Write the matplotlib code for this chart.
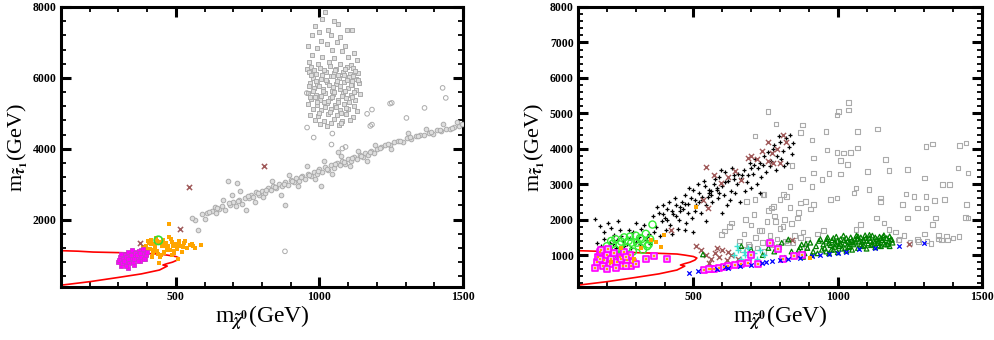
import numpy as np
import matplotlib.pyplot as plt
from matplotlib.ticker import MultipleLocator

# ---------------- data ----------------
# red exclusion contour, same in both panels
red_x = [100, 160, 212, 300, 380, 443, 470, 500, 512, 505, 488, 470, 455, 470, 443, 380, 300, 200, 105]
red_y = [1125, 1110, 1086, 1070, 1050, 1030, 1000, 960, 917, 860, 800, 760, 720, 690, 579, 470, 370, 250, 156]

# left panel
L_block_x = [1020, 1010, 1050, 1065, 985, 1000, 1030, 1095, 1115, 975, 1040, 1070, 1005, 1025, 1060,
             1090, 960, 990, 1045, 1080, 1120, 975, 1010, 1050, 1100, 1130, 965, 995, 1035, 1070, 1110,
             955, 972, 1003, 1038, 1058, 1097, 1118, 962, 988, 1022, 1052, 1083, 1108, 1133, 978, 1007,
             1042, 1067, 1102, 1127, 966, 993, 1027, 1057, 1087, 1113, 1138, 982, 1012, 1047, 1072, 1098,
             1128, 961, 989, 1018, 1049, 1081, 1109, 1141, 971, 1002, 1036, 1064, 1093, 1124, 959, 992,
             1026, 1054, 1086, 1119, 976, 1006, 1041, 1071, 1101, 1131, 967, 996, 1031, 1061, 1091, 1116,
             986, 1016, 1051, 1079, 1106, 1001, 1039, 1068, 1028, 1075, 984, 1044, 1112, 1063, 1015,
             980, 1015, 1055, 1090, 1125, 970, 1008, 1046, 1085, 1118, 988, 1024, 1062, 1096, 1135, 963,
             1000, 1035, 1073, 1110, 977, 1013, 1052, 1088, 1122, 968, 1005, 1043, 1078, 1115, 990, 1030,
             1066, 1102, 1020, 1058, 1094, 997, 1037, 1076]
L_block_y = [7850, 7650, 7600, 7520, 7450, 7300, 7350, 7350, 7340, 7200, 7200, 7150, 7050, 6950, 7000,
             6900, 6900, 6850, 6800, 6750, 6700, 6650, 6600, 6550, 6600, 6500, 6450, 6400, 6450, 6400, 6350,
             6250, 6310, 6270, 6330, 6240, 6300, 6280, 6160, 6120, 6180, 6140, 6170, 6110, 6150, 6010, 5980,
             6040, 5990, 6020, 5960, 5860, 5830, 5880, 5840, 5870, 5810, 5850, 5710, 5680, 5730, 5690, 5720,
             5670, 5560, 5530, 5580, 5540, 5570, 5510, 5550, 5410, 5380, 5430, 5390, 5420, 5370, 5260, 5230,
             5280, 5240, 5270, 5210, 5110, 5080, 5130, 5090, 5120, 5060, 4960, 4930, 4980, 4940, 4970, 4910,
             4810, 4780, 4830, 4790, 4820, 4700, 4720, 4680, 4650, 4740, 5470, 5640, 5920, 6070, 5330,
             6220, 6230, 6210, 6240, 6200, 6070, 6090, 6060, 6080, 6050, 5920, 5940, 5910, 5950, 5930, 5780,
             5770, 5790, 5760, 5800, 5620, 5640, 5610, 5630, 5600, 5470, 5490, 5460, 5480, 5450, 5320, 5340,
             5310, 5330, 5170, 5190, 5160, 5020, 5040, 5010]
L_out_x = [956, 980, 1045, 1042, 1177, 1246, 1166, 957, 1080, 1091, 1252, 1366, 1429, 1440, 1183, 1303, 1183, 880]
L_out_y = [5573, 4317, 4430, 4120, 4644, 5275, 4986, 4599, 4007, 4052, 5294, 5153, 5718, 5435, 5106, 4870, 4682, 1106]

L_band_x = [565, 555, 600, 577, 590, 610, 625, 640, 650, 660, 670, 680, 690, 700, 710, 714, 720, 730, 740,
            745, 754, 760, 770, 780, 790, 800, 810, 820, 830, 840, 850, 860, 870, 880, 890, 900, 910, 920,
            930, 940, 950, 960, 970, 980, 990, 1000, 1010, 1020, 1030, 1040, 1050, 1060, 1070, 1080, 1090,
            1100, 1110, 1120, 1130, 1140, 1150, 1160, 1170, 1180, 1190, 1200, 1215, 1230, 1245, 1260, 1275,
            1290, 1305, 1320, 1335, 1350, 1365, 1380, 1395, 1410, 1425, 1440, 1455, 1470, 1485, 1495,
            635, 665, 695, 725, 775, 805, 835, 865, 895, 925, 955, 985, 1015, 1045, 1075, 1105, 1135, 1165,
            1195, 1250, 1310, 1370, 1430, 1480, 880, 1005, 1065,
            615, 645, 685, 715, 750, 785, 815, 845, 875, 905, 935, 965, 995, 1025, 1055, 1085, 1115, 1145,
            1175, 1210, 1240, 1280, 1315, 1345, 1390, 1420, 1460]
L_band_y = [2000, 2060, 2030, 1718, 2150, 2180, 2250, 2200, 2300, 2380, 2280, 3082, 2420, 2500, 2380,
            3035, 2560, 2450, 2620, 2282, 2600, 2700, 2650, 2780, 2700, 2820, 2760, 2900, 2830, 2950, 2880,
            3000, 2940, 3050, 2980, 3120, 3060, 3180, 3100, 3230, 3150, 3300, 3240, 3350, 3280, 3420, 3350,
            3480, 3400, 3530, 3460, 3600, 3540, 3650, 3580, 3720, 3660, 3770, 3700, 3830, 3760, 3880, 3820,
            3940, 3870, 4000, 4050, 4120, 4100, 4180, 4230, 4200, 4300, 4280, 4350, 4400, 4380, 4450, 4430,
            4520, 4490, 4560, 4550, 4620, 4650, 4700,
            2350, 2550, 2700, 2800, 2500, 2650, 3100, 2700, 3250, 2950, 3500, 3150, 3650, 3300, 3800, 3500,
            3950, 3650, 4100, 4000, 4450, 4560, 4700, 4750, 2400, 2950, 3900,
            2230, 2330, 2470, 2520, 2660, 2740, 2850, 2920, 3010, 3090, 3190, 3270, 3380, 3440, 3560, 3620,
            3740, 3800, 3910, 4010, 4140, 4210, 4320, 4370, 4470, 4540, 4600]

L_orange_x = [477, 587, 567, 532, 443, 506, 390, 395, 400, 405, 410, 415, 420, 425, 430, 435, 440, 445, 450,
              455, 460, 465, 470, 475, 480, 485, 490, 495, 500, 505, 510, 515, 520, 398, 412, 428, 438, 452,
              468, 482, 496, 512, 525, 540, 555, 418, 433, 458, 473, 488, 503, 387, 402, 423, 447, 463, 492,
              530, 548, 380, 385, 560]
L_orange_y = [1875, 1283, 1207, 1404, 785, 889, 1100, 1250, 1000, 1350, 1180, 1420, 1050, 1300, 1480, 1120,
              1380, 960, 1250, 1440, 1080, 1330, 1200, 1500, 1150, 1380, 1250, 1050, 1320, 1180, 1400, 1250,
              1100, 1150, 1300, 1220, 1020, 1350, 1150, 1450, 1300, 1320, 1230, 1200, 1320, 950, 1400, 1050,
              1250, 1000, 1220, 1000, 1400, 1150, 1000, 1260, 1120, 1350, 1280, 950, 1220, 1250]

L_mag_x = [300, 305, 310, 315, 320, 325, 330, 335, 340, 345, 350, 355, 360, 365, 370, 375, 380, 385, 390,
           395, 302, 312, 322, 332, 342, 352, 362, 372, 382, 392, 308, 318, 328, 338, 348, 358, 368, 378,
           388, 398, 325, 345, 365, 385, 335, 355, 375]
L_mag_y = [800, 950, 700, 880, 1020, 760, 920, 650, 1050, 840, 980, 720, 1100, 900, 1010, 830, 1150, 960,
           1080, 1000, 870, 780, 1000, 1080, 930, 800, 880, 1120, 1040, 900, 1040, 840, 960, 780, 1150, 1050,
           820, 950, 880, 1100, 690, 1000, 990, 1180, 880, 900, 1060]

L_brown_x = [376, 514, 545, 808]
L_brown_y = [1341, 1736, 2913, 3506]
L_green_x = [439]
L_green_y = [1416]

# right panel
R_black_x = [160, 175, 190, 205, 215, 225, 240, 245, 165, 180, 200, 220, 235, 250, 170, 260, 255, 190, 230, 210,
             270, 280, 290, 300, 310, 320, 335, 345, 300, 275, 330, 350, 285, 315, 340,
             360, 370, 380, 390, 400, 410, 420, 430, 440, 450, 365, 385, 405, 425, 445, 455, 395, 435, 415, 375,
             460, 470, 480, 490, 500, 510, 520, 530, 540, 550, 465, 475, 495, 505, 525, 545, 485, 515, 535, 555,
             470, 500, 545,
             560, 570, 580, 590, 600, 610, 620, 630, 640, 650, 565, 585, 605, 625, 645, 575, 595, 615, 635, 655,
             660, 600,
             665, 675, 685, 695, 705, 715, 725, 735, 745, 680, 700, 720, 740, 690, 710, 730, 750,
             760, 770, 780, 790, 800, 810, 820, 830, 840, 765, 785, 805, 825, 845, 775, 795, 815, 835,
             395, 425, 455, 480, 505, 530, 555, 580, 610, 640, 670, 700, 730, 410, 440, 470, 520, 560, 590]
R_black_y = [2010, 1820, 1650, 1900, 1760, 1580, 1950, 1700, 1350, 1250, 1180, 1300, 1420, 1550, 1120, 1250,
             1400, 1450, 1200, 1350,
             1300, 1480, 1650, 1380, 1520, 1750, 1420, 1600, 1900, 1700, 1850, 1300, 1200, 1300, 1500,
             2100, 1800, 2200, 1950, 2050, 2300, 1850, 2150, 2400, 2000, 1650, 1550, 1700, 1600, 1750, 2250,
             2400, 2600, 2500, 2350,
             2500, 2700, 2200, 2600, 2850, 2400, 2750, 2550, 2950, 2650, 2300, 1900, 2050, 2250, 2200, 2400,
             2900, 3000, 3100, 2850, 1700, 1650, 1950,
             2700, 3000, 2850, 3200, 2950, 3350, 3100, 2800, 3250, 3000, 2500, 2600, 2700, 2550, 2750, 3150,
             3400, 2400, 3450, 3300, 2500, 2200,
             3150, 3400, 3050, 3600, 3300, 3700, 3450, 3200, 3800, 2800, 2900, 3000, 3550, 3250, 3550, 2750, 3350,
             3900, 3650, 4100, 3800, 4200, 3950, 4300, 4050, 3850, 3500, 3400, 3700, 3600, 4150, 4000, 4350,
             3500, 4400,
             2150, 2250, 2350, 2450, 2550, 2650, 2750, 2900, 3050, 3150, 3250, 3450, 3600, 2000, 2100, 2450,
             2500, 2800, 2750]

R_brown_x = [544, 573, 597, 643, 666, 690, 701, 736, 759, 811, 822, 771, 777, 533, 550, 422, 620, 720, 790,
             800, 760, 527, 545, 560, 575, 590, 600, 615, 630, 643, 555, 580, 620, 510, 1248, 841, 655]
R_brown_y = [3474, 3268, 3034, 3362, 3127, 3736, 3783, 3924, 4205, 4392, 4205, 3877, 3596, 2565, 2331, 1722,
             3200, 3700, 4000, 3600, 3650, 1150, 1000, 900, 1050, 950, 1150, 850, 1000, 760, 780, 1200, 1100,
             1250, 1300, 1440, 880]

R_gray_x = [759, 1038, 1038, 1003, 998, 786, 879, 960, 1137, 713, 870, 1068, 1329, 1306, 1422, 911, 963, 998,
            1021, 1045, 1068, 916, 1009, 1033, 1166, 1103, 842, 877, 917, 970, 1009, 1178, 1242, 1417, 1300,
            835, 911, 946, 1063, 1056, 1109, 1149, 1149, 1364, 1236, 1265, 1306, 1335, 1370, 1225, 1277, 1306,
            1446, 1442, 1338, 1329, 1242, 1160, 1135, 1178, 1079, 1063, 1213, 1277, 1360, 1376, 1323, 998, 975,
            917, 888, 870, 823, 812, 800, 777, 771, 744, 713, 684, 741, 608, 597, 626, 632, 1445, 1451, 1451,
            1387,
            660, 675, 690, 700, 715, 730, 740, 755, 765, 780, 790, 800, 815, 825, 840, 850, 865, 880, 895, 905,
            670, 695, 720, 745, 770, 795, 820, 845, 870, 890, 680, 710, 735, 760, 785, 810, 835, 860,
            1250, 1280, 1310, 1350, 1380, 1400, 1300, 1350, 1420, 1210, 930, 950, 1200, 1230]
R_gray_y = [5048, 5313, 5096, 5048, 4956, 4694, 4675, 4486, 4554, 4365, 4458, 4486, 4140, 4064, 4084, 4253,
            3969, 3896, 3879, 3900, 4019, 3738, 3662, 3550, 3691, 3362, 3522, 3148, 3317, 3297, 3289, 3390,
            3410, 3457, 3176, 2940, 2940, 3128, 2893, 2753, 2847, 2614, 2518, 2988, 2726, 2659, 2659, 2546,
            2566, 2425, 2332, 2332, 2425, 2068, 2051, 1863, 2051, 1910, 2051, 1722, 1863, 1722, 1441, 1441,
            1422, 1534, 1329, 2614, 2566, 2425, 2518, 2472, 2659, 2707, 2566, 2378, 2332, 2707, 2566, 2518,
            2707, 1675, 1582, 1815, 1910, 4158, 3315, 2050, 2987,
            1400, 1600, 1300, 1850, 1500, 1700, 1350, 1950, 1550, 2100, 1450, 1750, 2000, 1350, 1900, 1550,
            2200, 1650, 1450, 2300, 1150, 1250, 1200, 1100, 1300, 1250, 1400, 1350, 1500, 1250, 2000, 2150,
            1700, 2250, 1950, 1800, 2350, 2050,
            1350, 1380, 1400, 1450, 1430, 1480, 1600, 1550, 1520, 1430, 1600, 1700, 1650, 1550]

R_tri_x = [855, 865, 875, 885, 895, 905, 915, 925, 935, 945, 950, 870, 890, 910, 930, 940, 880,
           955, 960, 965, 970, 975, 980, 985, 990, 995, 1000, 1005, 1010, 1015, 1020, 1025, 1030, 1035, 1040,
           1045, 1050, 960, 970, 990, 1000, 1010, 1030, 1040, 1050, 985, 1025,
           1055, 1060, 1065, 1070, 1075, 1080, 1085, 1090, 1095, 1100, 1105, 1110, 1115, 1120, 1125, 1130,
           1135, 1140, 1145, 1150, 1155, 1160, 1165, 1170, 1175, 1180, 1185, 1190, 1060, 1080, 1100, 1120,
           1140, 1160, 1180, 1070, 1110, 1150, 1090, 1130,
           533, 806, 829, 817, 666, 760, 780, 740, 700, 840,
           962, 978, 993, 1008, 1022, 1038, 1053, 1068, 1083, 1098, 1113, 1128, 1143, 1158, 1173, 1188]
R_tri_y = [1000, 1150, 1300, 1050, 1200, 1350, 1100, 1250, 1400, 1150, 1300, 1220, 1320, 1000, 1050, 1450, 950,
           1200, 1380, 1500, 1050, 1280, 1420, 1150, 1350, 1520, 1080, 1250, 1450, 1180, 1550, 1320, 1120,
           1400, 1250, 1500, 1150, 1100, 1330, 1230, 1400, 1300, 1480, 1360, 1420, 1480, 1200,
           1300, 1450, 1550, 1200, 1380, 1500, 1250, 1420, 1560, 1180, 1330, 1480, 1280, 1550, 1400, 1220,
           1450, 1340, 1520, 1250, 1420, 1560, 1300, 1480, 1380, 1250, 1450, 1350, 1350, 1300, 1400, 1300,
           1400, 1350, 1530, 1530, 1570, 1480, 1270, 1500,
           1019, 1347, 1440, 925, 1253, 1200, 1100, 1000, 1150, 1100,
           1450, 1150, 1300, 1350, 1420, 1220, 1380, 1460, 1380, 1480, 1400, 1350, 1270, 1520, 1300, 1430]

R_lime_x = [180, 200, 215, 230, 245, 260, 270, 285, 300, 310, 320, 335, 345, 230, 255, 290, 325, 350, 358,
            275, 305, 240, 195, 220, 250, 280, 315, 340]
R_lime_y = [1100, 1250, 1400, 1150, 1300, 1500, 1200, 1350, 1550, 1250, 1450, 1600, 1300, 1450, 1050, 1100,
            1150, 1450, 1862, 1400, 1350, 1000, 1000, 1320, 1380, 1520, 1480, 1250]

R_mag_x = [160, 165, 170, 175, 185, 190, 200, 210, 215, 225, 235, 245, 255, 260, 270, 280, 290, 180, 200,
           230, 250, 265, 285, 175, 205, 335, 365, 410, 265, 300,
           538, 560, 573, 590, 605, 620, 643, 665, 690, 724, 555, 765, 794, 701, 847, 876, 812]
R_mag_y = [650, 800, 950, 1100, 700, 850, 1000, 750, 900, 1050, 800, 950, 700, 1100, 850, 1000, 800, 1150, 600,
           650, 900, 950, 700, 880, 1160, 878, 972, 897, 691, 760,
           578, 600, 616, 640, 660, 691, 728, 750, 784, 756, 610, 1347, 1178, 991, 972, 991, 897]

R_blue_x = [486, 515, 580, 620, 660, 700, 736, 771, 800, 829, 870, 911, 940, 969, 1000, 1027, 1073, 1130,
            1213, 1300, 610, 750]
R_blue_y = [503, 550, 600, 644, 700, 730, 784, 831, 850, 878, 920, 972, 1000, 1019, 1060, 1084, 1159, 1200,
            1253, 1328, 660, 800]

R_cyan_x = [640, 655, 665, 675, 690, 700, 710, 720, 730, 745, 650, 680]
R_cyan_y = [1000, 1150, 900, 1080, 1200, 950, 1050, 880, 1150, 1000, 1250, 1000]

R_orange_x = [509, 352, 370, 387, 398, 905, 294, 250, 320, 215]
R_orange_y = [2359, 1440, 1365, 1234, 1581, 925, 878, 1200, 1200, 800]

# ---------------- styling ----------------
plt.rcParams['font.family'] = ['Liberation Serif', 'DejaVu Serif']
plt.rcParams['font.weight'] = 'bold'
plt.rcParams['mathtext.fontset'] = 'stix'

GRAY = '#ababab'
FILL = '#dedede'

fig = plt.figure(figsize=(9.95, 3.4), dpi=100)
axL = fig.add_axes([61 / 995, 53 / 340, 402 / 995, 280 / 340])
axR = fig.add_axes([578 / 995, 53 / 340, 404 / 995, 280 / 340])


def style_axis(ax, ymajor, yminor):
    ax.set_xlim(100, 1500)
    ax.set_ylim(100, 8000)
    ax.xaxis.set_major_locator(MultipleLocator(500))
    ax.xaxis.set_minor_locator(MultipleLocator(100))
    ax.yaxis.set_major_locator(MultipleLocator(ymajor))
    ax.yaxis.set_minor_locator(MultipleLocator(yminor))
    ax.tick_params(which='both', direction='in', top=True, right=True)
    ax.tick_params(which='major', length=7, width=2.2, labelsize=8.5, pad=3)
    ax.tick_params(which='minor', length=3.5, width=1.3)
    for sp in ax.spines.values():
        sp.set_linewidth(2.2)
    ax.set_xlabel(r'm$_{\tilde{\chi}^0}$(GeV)', fontsize=17, fontweight='normal', labelpad=0)
    ax.set_ylabel(r'm$_{\tilde{\tau}_1}$(GeV)', fontsize=16, fontweight='normal', labelpad=2)


ms = 11
# left panel
axL.plot(red_x, red_y, color='red', lw=1.2, zorder=2)
axL.scatter(L_band_x, L_band_y, s=ms, marker='o', facecolors=FILL, edgecolors=GRAY, linewidths=0.7, zorder=3)
axL.scatter(L_block_x, L_block_y, s=ms, marker='s', facecolors=FILL, edgecolors=GRAY, linewidths=0.7, zorder=3)
axL.scatter(L_out_x, L_out_y, s=ms, marker='o', facecolors='none', edgecolors=GRAY, linewidths=0.7, zorder=3)
axL.scatter(L_orange_x, L_orange_y, s=ms, marker='s', color='orange', linewidths=0, zorder=4)
axL.scatter(L_mag_x, L_mag_y, s=ms, marker='s', facecolors='magenta', edgecolors='#cc33cc', linewidths=0.6, zorder=5)
axL.scatter(L_brown_x, L_brown_y, s=14, marker='x', color='#a05a5a', linewidths=1.1, zorder=6)
axL.scatter(L_green_x, L_green_y, s=36, marker='o', facecolors='none', edgecolors='#33dd33', linewidths=1.2, zorder=6)
style_axis(axL, 2000, 400)

# right panel
axR.plot(red_x, red_y, color='red', lw=1.2, zorder=2)
axR.scatter(R_gray_x, R_gray_y, s=ms, marker='s', facecolors='none', edgecolors=GRAY, linewidths=0.8, zorder=3)
axR.scatter(R_black_x, R_black_y, s=11, marker='+', color='black', linewidths=0.9, zorder=4)
axR.scatter(R_brown_x, R_brown_y, s=14, marker='x', color='#a05a5a', linewidths=1.0, zorder=5)
axR.scatter(R_tri_x, R_tri_y, s=11, marker='^', facecolors='none', edgecolors='green', linewidths=0.9, zorder=5)
axR.scatter(R_lime_x, R_lime_y, s=26, marker='o', facecolors='none', edgecolors='#33ee33', linewidths=1.0, zorder=5)
axR.scatter(R_cyan_x, R_cyan_y, s=16, marker='+', color='turquoise', linewidths=1.0, zorder=5)
axR.scatter(R_mag_x, R_mag_y, s=24, marker='s', facecolors='#f4b0f4', edgecolors='magenta', linewidths=1.2, zorder=6)
axR.scatter(R_mag_x, R_mag_y, s=4, marker='s', color='orange', linewidths=0, zorder=7)
axR.scatter(R_blue_x, R_blue_y, s=10, marker='x', color='blue', linewidths=0.9, zorder=6)
axR.scatter(R_orange_x, R_orange_y, s=10, marker='s', color='orange', linewidths=0, zorder=7)
style_axis(axR, 1000, 200)

fig.savefig('out.png', dpi=100)
